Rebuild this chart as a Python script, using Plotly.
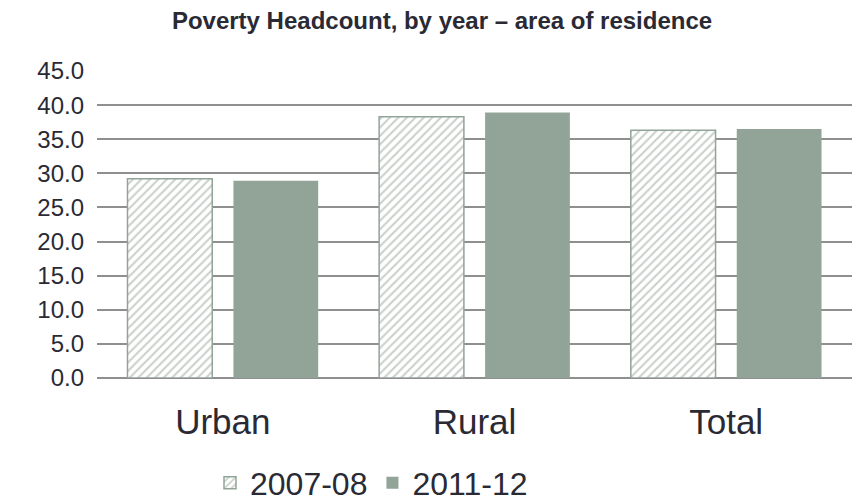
import plotly.graph_objects as go

categories = ["Urban", "Rural", "Total"]
series_names = ["2007-08", "2011-12"]
values_2007 = [29.2, 38.3, 36.3]
values_2011 = [28.9, 38.9, 36.5]
y_ticks = [0, 5, 10, 15, 20, 25, 30, 35, 40, 45]

sage = "#92a398"
text_col = "#2a2a35"
grid_col = "#8f8f8f"

fig = go.Figure()
fig.add_trace(go.Bar(
    x=categories, y=values_2007, name=series_names[0],
    marker=dict(color="white", line=dict(color=sage, width=1.5),
                pattern=dict(shape="/", fgcolor=sage, bgcolor="white",
                             size=6, solidity=0.35)),
))
fig.add_trace(go.Bar(
    x=categories, y=values_2011, name=series_names[1],
    marker=dict(color=sage, line=dict(color=sage, width=0)),
))

fig.update_layout(
    width=854, height=504,
    margin=dict(l=97, r=2, t=71, b=126, autoexpand=False),
    paper_bgcolor="white", plot_bgcolor="white",
    font=dict(family="Liberation Sans, Arial, sans-serif", color=text_col),
    title=dict(text="<b>Poverty Headcount, by year \u2013 area of residence</b>",
               x=0.5176, xanchor="center", y=0.959, yanchor="middle",
               font=dict(size=24, color=text_col)),
    barmode="group", bargap=0.158, bargroupgap=0.2,
    showlegend=True,
    legend=dict(orientation="h", x=(210 - 97) / 755, xanchor="left",
                y=-(483 - 378) / 307, yanchor="middle",
                font=dict(size=32, color=text_col), itemwidth=30,
                traceorder="normal", tracegroupgap=0),
)
fig.update_yaxes(range=[0, 45], tickvals=y_ticks,
                 ticktext=[f"{v:.1f}" for v in y_ticks],
                 showgrid=True, gridcolor=grid_col, gridwidth=1.5,
                 zeroline=True, zerolinecolor=grid_col, zerolinewidth=1.5,
                 showline=False, tickfont=dict(size=24, color=text_col),
                 ticklabelstandoff=12)
fig.update_xaxes(showline=False, showgrid=False,
                 tickfont=dict(size=35, color=text_col), ticklabelstandoff=20)

fig.write_html("out.html")
